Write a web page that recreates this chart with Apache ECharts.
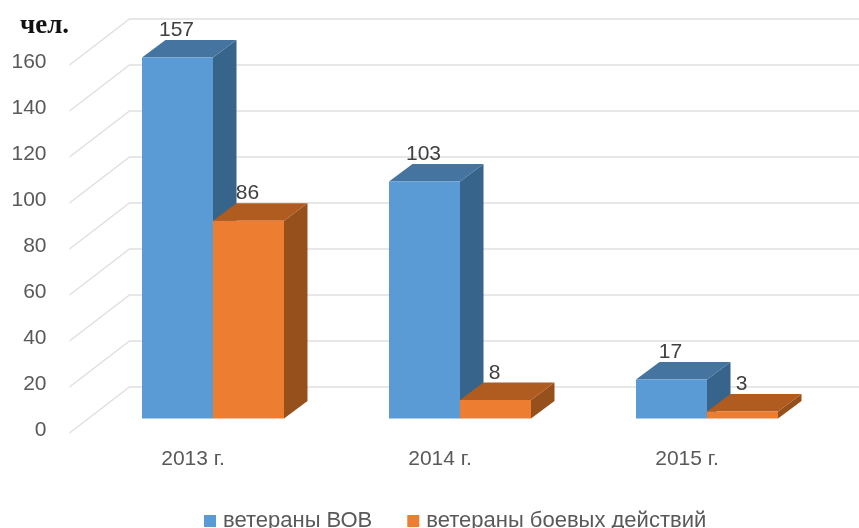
<!DOCTYPE html>
<html><head><meta charset="utf-8">
<style>html,body{margin:0;padding:0;background:#fff}#c{width:859px;height:528px}</style>
<script src="https://cdn.jsdelivr.net/npm/echarts@6/dist/echarts.min.js"></script>
</head><body><div id="c"></div>
<script>
const categories = ['2013 г.', '2014 г.', '2015 г.'];
const veteransWW2 = [157, 103, 17];
const veteransCombat = [86, 8, 3];
const yTicks = [0, 20, 40, 60, 80, 100, 120, 140, 160];
const seriesNames = ['ветераны ВОВ', 'ветераны боевых действий'];
const unitLabel = 'чел.';

const FONT = '"Liberation Sans", Arial, sans-serif';
const TXT = '#595959';
const BAR_RATIO = 71 / 247;
const PLANE = [20, -11.5];   // bars' front plane relative to the axis plane
const DEPTH = [23.5, -17.5];
const WALL = [60, -43];

function barRenderer(sign, face, top, side) {
  return function (params, api) {
    const v = api.value(1);
    const band = api.size([1, 0])[0];
    const w = band * BAR_RATIO;
    const c0 = api.coord([api.value(0), 0]);
    const c1 = api.coord([api.value(0), v]);
    const x0 = c0[0] + PLANE[0] + (sign < 0 ? -w : 0);
    const x1 = x0 + w;
    const yb = c0[1] + PLANE[1];
    const yt = c1[1] + PLANE[1];
    const dx = DEPTH[0], dy = DEPTH[1];
    return {
      type: 'group',
      children: [
        { type: 'polygon', shape: { points: [[x1, yb], [x1 + dx, yb + dy], [x1 + dx, yt + dy], [x1, yt]] }, style: { fill: side } },
        { type: 'polygon', shape: { points: [[x0, yt], [x1, yt], [x1 + dx, yt + dy], [x0 + dx, yt + dy]] }, style: { fill: top } },
        { type: 'rect', shape: { x: x0, y: yt, width: w, height: yb - yt }, style: { fill: face } },
        { type: 'text', style: { text: String(v), x: (x0 + x1) / 2 - 1, y: yt - 27, align: 'center', verticalAlign: 'middle', font: '21px ' + FONT, fill: '#404040' } }
      ]
    };
  };
}

function wallRenderer(params, api) {
  const t = api.value(1);
  const band = api.size([1, 0])[0];
  const c = api.coord([0, t]);
  const left = c[0] - band / 2;
  const right = left + band * categories.length;
  return {
    type: 'polyline',
    shape: { points: [[left, c[1] + 3], [left + WALL[0], c[1] + WALL[1]], [right + WALL[0], c[1] + WALL[1]]] },
    style: { fill: 'none', stroke: '#e0e0e0', lineWidth: 1.5 }
  };
}

const chart = echarts.init(document.getElementById('c'), null, { renderer: 'canvas' });
chart.setOption({
  animation: false,
  backgroundColor: '#fff',
  title: { text: unitLabel, left: 15, top: 8, textStyle: { fontFamily: '"Liberation Serif", serif', fontWeight: 'bold', fontSize: 27, color: '#111' } },
  legend: {
    left: 199, top: 505, itemWidth: 12, itemHeight: 12, itemGap: 35, icon: 'rect',
    data: seriesNames,
    textStyle: { fontFamily: FONT, fontSize: 22, color: TXT, padding: [0, 0, 0, 2] }
  },
  grid: { left: 69.5, right: 48.5, top: 62, bottom: 98 },
  xAxis: {
    type: 'category', data: categories,
    axisLine: { show: false }, axisTick: { show: false },
    axisLabel: { fontFamily: FONT, fontSize: 21, color: TXT, margin: 19 }
  },
  yAxis: {
    type: 'value', min: 0, max: 160, interval: 20,
    axisLine: { show: false }, axisTick: { show: false }, splitLine: { show: false },
    axisLabel: { fontFamily: FONT, fontSize: 21, color: TXT, margin: 23 }
  },
  series: [
    { type: 'custom', name: 'wall', silent: true, clip: false, z: 1, renderItem: wallRenderer,
      data: yTicks.map(t => [0, t]), encode: { x: 0, y: 1 } },
    { type: 'custom', name: seriesNames[0], clip: false, z: 2, itemStyle: { color: '#5B9BD5' },
      renderItem: barRenderer(-1, '#5B9BD5', '#44749F', '#37648A'),
      data: veteransWW2.map((v, i) => [i, v]), encode: { x: 0, y: 1 } },
    { type: 'custom', name: seriesNames[1], clip: false, z: 3, itemStyle: { color: '#ED7D31' },
      renderItem: barRenderer(1, '#ED7D31', '#B05B1F', '#96501B'),
      data: veteransCombat.map((v, i) => [i, v]), encode: { x: 0, y: 1 } }
  ]
});
</script></body></html>
